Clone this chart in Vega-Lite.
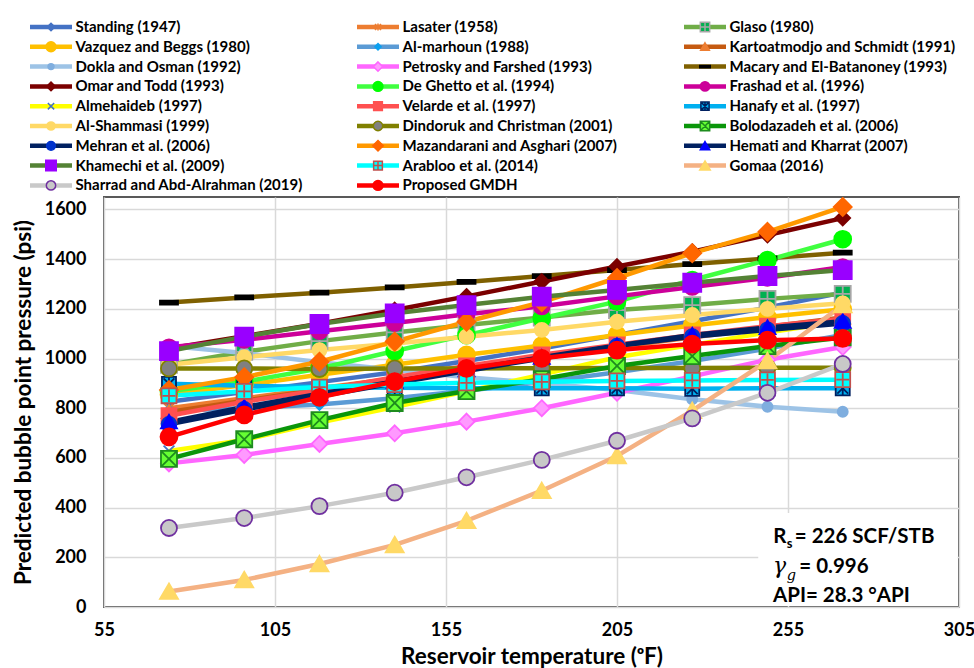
{
  "$schema": "https://vega.github.io/schema/vega-lite/v6.json",
  "width": 855,
  "height": 410,
  "autosize": {"type": "none"},
  "padding": {"left": 104, "top": 197, "right": 15, "bottom": 61},
  "background": "white",
  "config": {
    "view": {"stroke": "#595959", "strokeWidth": 2},
    "font": "Lato",
    "axis": {
      "labelFont": "Lato", "labelFontWeight": "bold", "labelFontSize": 18, "labelColor": "#000000",
      "titleFont": "Lato", "titleFontWeight": "bold", "titleFontSize": 22.5, "titleColor": "#000000",
      "gridColor": "#D9D9D9", "gridWidth": 1.5, "ticks": false, "domain": false,
      "labelFlush": false, "labelOverlap": false
    }
  },
  "data": {"values": [
    {"method": "Standing (1947)", "temp": 74, "pb": 826}, {"method": "Standing (1947)", "temp": 96, "pb": 865}, {"method": "Standing (1947)", "temp": 118, "pb": 905}, {"method": "Standing (1947)", "temp": 140, "pb": 945}, {"method": "Standing (1947)", "temp": 161, "pb": 990}, {"method": "Standing (1947)", "temp": 183, "pb": 1040}, {"method": "Standing (1947)", "temp": 205, "pb": 1095}, {"method": "Standing (1947)", "temp": 227, "pb": 1150}, {"method": "Standing (1947)", "temp": 249, "pb": 1205}, {"method": "Standing (1947)", "temp": 271, "pb": 1265},
    {"method": "Lasater (1958)", "temp": 74, "pb": 800}, {"method": "Lasater (1958)", "temp": 96, "pb": 840}, {"method": "Lasater (1958)", "temp": 118, "pb": 880}, {"method": "Lasater (1958)", "temp": 140, "pb": 920}, {"method": "Lasater (1958)", "temp": 161, "pb": 962}, {"method": "Lasater (1958)", "temp": 183, "pb": 1005}, {"method": "Lasater (1958)", "temp": 205, "pb": 1045}, {"method": "Lasater (1958)", "temp": 227, "pb": 1085}, {"method": "Lasater (1958)", "temp": 249, "pb": 1120}, {"method": "Lasater (1958)", "temp": 271, "pb": 1150},
    {"method": "Glaso (1980)", "temp": 74, "pb": 975}, {"method": "Glaso (1980)", "temp": 96, "pb": 1027}, {"method": "Glaso (1980)", "temp": 118, "pb": 1070}, {"method": "Glaso (1980)", "temp": 140, "pb": 1105}, {"method": "Glaso (1980)", "temp": 161, "pb": 1135}, {"method": "Glaso (1980)", "temp": 183, "pb": 1165}, {"method": "Glaso (1980)", "temp": 205, "pb": 1195}, {"method": "Glaso (1980)", "temp": 227, "pb": 1215}, {"method": "Glaso (1980)", "temp": 249, "pb": 1240}, {"method": "Glaso (1980)", "temp": 271, "pb": 1260},
    {"method": "Vazquez and Beggs (1980)", "temp": 74, "pb": 855}, {"method": "Vazquez and Beggs (1980)", "temp": 96, "pb": 893}, {"method": "Vazquez and Beggs (1980)", "temp": 118, "pb": 935}, {"method": "Vazquez and Beggs (1980)", "temp": 140, "pb": 975}, {"method": "Vazquez and Beggs (1980)", "temp": 161, "pb": 1015}, {"method": "Vazquez and Beggs (1980)", "temp": 183, "pb": 1052}, {"method": "Vazquez and Beggs (1980)", "temp": 205, "pb": 1095}, {"method": "Vazquez and Beggs (1980)", "temp": 227, "pb": 1133}, {"method": "Vazquez and Beggs (1980)", "temp": 249, "pb": 1167}, {"method": "Vazquez and Beggs (1980)", "temp": 271, "pb": 1198},
    {"method": "Al-marhoun (1988)", "temp": 74, "pb": 790}, {"method": "Al-marhoun (1988)", "temp": 96, "pb": 800}, {"method": "Al-marhoun (1988)", "temp": 118, "pb": 815}, {"method": "Al-marhoun (1988)", "temp": 140, "pb": 840}, {"method": "Al-marhoun (1988)", "temp": 161, "pb": 870}, {"method": "Al-marhoun (1988)", "temp": 183, "pb": 905}, {"method": "Al-marhoun (1988)", "temp": 205, "pb": 945}, {"method": "Al-marhoun (1988)", "temp": 227, "pb": 990}, {"method": "Al-marhoun (1988)", "temp": 249, "pb": 1040}, {"method": "Al-marhoun (1988)", "temp": 271, "pb": 1095},
    {"method": "Kartoatmodjo and Schmidt (1991)", "temp": 74, "pb": 785}, {"method": "Kartoatmodjo and Schmidt (1991)", "temp": 96, "pb": 830}, {"method": "Kartoatmodjo and Schmidt (1991)", "temp": 118, "pb": 875}, {"method": "Kartoatmodjo and Schmidt (1991)", "temp": 140, "pb": 920}, {"method": "Kartoatmodjo and Schmidt (1991)", "temp": 161, "pb": 965}, {"method": "Kartoatmodjo and Schmidt (1991)", "temp": 183, "pb": 1008}, {"method": "Kartoatmodjo and Schmidt (1991)", "temp": 205, "pb": 1050}, {"method": "Kartoatmodjo and Schmidt (1991)", "temp": 227, "pb": 1090}, {"method": "Kartoatmodjo and Schmidt (1991)", "temp": 249, "pb": 1128}, {"method": "Kartoatmodjo and Schmidt (1991)", "temp": 271, "pb": 1165},
    {"method": "Dokla and Osman (1992)", "temp": 74, "pb": 1050}, {"method": "Dokla and Osman (1992)", "temp": 96, "pb": 1022}, {"method": "Dokla and Osman (1992)", "temp": 118, "pb": 985}, {"method": "Dokla and Osman (1992)", "temp": 140, "pb": 955}, {"method": "Dokla and Osman (1992)", "temp": 161, "pb": 925}, {"method": "Dokla and Osman (1992)", "temp": 183, "pb": 900}, {"method": "Dokla and Osman (1992)", "temp": 205, "pb": 873}, {"method": "Dokla and Osman (1992)", "temp": 227, "pb": 836}, {"method": "Dokla and Osman (1992)", "temp": 249, "pb": 806}, {"method": "Dokla and Osman (1992)", "temp": 271, "pb": 786},
    {"method": "Petrosky and Farshed (1993)", "temp": 74, "pb": 578}, {"method": "Petrosky and Farshed (1993)", "temp": 96, "pb": 612}, {"method": "Petrosky and Farshed (1993)", "temp": 118, "pb": 656}, {"method": "Petrosky and Farshed (1993)", "temp": 140, "pb": 699}, {"method": "Petrosky and Farshed (1993)", "temp": 161, "pb": 746}, {"method": "Petrosky and Farshed (1993)", "temp": 183, "pb": 800}, {"method": "Petrosky and Farshed (1993)", "temp": 205, "pb": 862}, {"method": "Petrosky and Farshed (1993)", "temp": 227, "pb": 928}, {"method": "Petrosky and Farshed (1993)", "temp": 249, "pb": 995}, {"method": "Petrosky and Farshed (1993)", "temp": 271, "pb": 1046},
    {"method": "Macary and El-Batanoney (1993)", "temp": 74, "pb": 1225}, {"method": "Macary and El-Batanoney (1993)", "temp": 96, "pb": 1246}, {"method": "Macary and El-Batanoney (1993)", "temp": 118, "pb": 1265}, {"method": "Macary and El-Batanoney (1993)", "temp": 140, "pb": 1286}, {"method": "Macary and El-Batanoney (1993)", "temp": 161, "pb": 1308}, {"method": "Macary and El-Batanoney (1993)", "temp": 183, "pb": 1332}, {"method": "Macary and El-Batanoney (1993)", "temp": 205, "pb": 1356}, {"method": "Macary and El-Batanoney (1993)", "temp": 227, "pb": 1380}, {"method": "Macary and El-Batanoney (1993)", "temp": 249, "pb": 1403}, {"method": "Macary and El-Batanoney (1993)", "temp": 271, "pb": 1426},
    {"method": "Omar and Todd (1993)", "temp": 74, "pb": 1040}, {"method": "Omar and Todd (1993)", "temp": 96, "pb": 1090}, {"method": "Omar and Todd (1993)", "temp": 118, "pb": 1140}, {"method": "Omar and Todd (1993)", "temp": 140, "pb": 1195}, {"method": "Omar and Todd (1993)", "temp": 161, "pb": 1250}, {"method": "Omar and Todd (1993)", "temp": 183, "pb": 1310}, {"method": "Omar and Todd (1993)", "temp": 205, "pb": 1370}, {"method": "Omar and Todd (1993)", "temp": 227, "pb": 1430}, {"method": "Omar and Todd (1993)", "temp": 249, "pb": 1497}, {"method": "Omar and Todd (1993)", "temp": 271, "pb": 1565},
    {"method": "De Ghetto et al. (1994)", "temp": 74, "pb": 868}, {"method": "De Ghetto et al. (1994)", "temp": 96, "pb": 907}, {"method": "De Ghetto et al. (1994)", "temp": 118, "pb": 960}, {"method": "De Ghetto et al. (1994)", "temp": 140, "pb": 1030}, {"method": "De Ghetto et al. (1994)", "temp": 161, "pb": 1094}, {"method": "De Ghetto et al. (1994)", "temp": 183, "pb": 1162}, {"method": "De Ghetto et al. (1994)", "temp": 205, "pb": 1229}, {"method": "De Ghetto et al. (1994)", "temp": 227, "pb": 1316}, {"method": "De Ghetto et al. (1994)", "temp": 249, "pb": 1396}, {"method": "De Ghetto et al. (1994)", "temp": 271, "pb": 1480},
    {"method": "Frashad et al. (1996)", "temp": 74, "pb": 1045}, {"method": "Frashad et al. (1996)", "temp": 96, "pb": 1075}, {"method": "Frashad et al. (1996)", "temp": 118, "pb": 1110}, {"method": "Frashad et al. (1996)", "temp": 140, "pb": 1143}, {"method": "Frashad et al. (1996)", "temp": 161, "pb": 1178}, {"method": "Frashad et al. (1996)", "temp": 183, "pb": 1210}, {"method": "Frashad et al. (1996)", "temp": 205, "pb": 1250}, {"method": "Frashad et al. (1996)", "temp": 227, "pb": 1288}, {"method": "Frashad et al. (1996)", "temp": 249, "pb": 1325}, {"method": "Frashad et al. (1996)", "temp": 271, "pb": 1368},
    {"method": "Almehaideb (1997)", "temp": 74, "pb": 628}, {"method": "Almehaideb (1997)", "temp": 96, "pb": 672}, {"method": "Almehaideb (1997)", "temp": 118, "pb": 742}, {"method": "Almehaideb (1997)", "temp": 140, "pb": 805}, {"method": "Almehaideb (1997)", "temp": 161, "pb": 868}, {"method": "Almehaideb (1997)", "temp": 183, "pb": 935}, {"method": "Almehaideb (1997)", "temp": 205, "pb": 1005}, {"method": "Almehaideb (1997)", "temp": 227, "pb": 1055}, {"method": "Almehaideb (1997)", "temp": 249, "pb": 1105}, {"method": "Almehaideb (1997)", "temp": 271, "pb": 1150},
    {"method": "Velarde et al. (1997)", "temp": 74, "pb": 770}, {"method": "Velarde et al. (1997)", "temp": 96, "pb": 826}, {"method": "Velarde et al. (1997)", "temp": 118, "pb": 872}, {"method": "Velarde et al. (1997)", "temp": 140, "pb": 925}, {"method": "Velarde et al. (1997)", "temp": 161, "pb": 970}, {"method": "Velarde et al. (1997)", "temp": 183, "pb": 1015}, {"method": "Velarde et al. (1997)", "temp": 205, "pb": 1055}, {"method": "Velarde et al. (1997)", "temp": 227, "pb": 1095}, {"method": "Velarde et al. (1997)", "temp": 249, "pb": 1130}, {"method": "Velarde et al. (1997)", "temp": 271, "pb": 1160},
    {"method": "Hanafy et al. (1997)", "temp": 74, "pb": 898}, {"method": "Hanafy et al. (1997)", "temp": 96, "pb": 890}, {"method": "Hanafy et al. (1997)", "temp": 118, "pb": 885}, {"method": "Hanafy et al. (1997)", "temp": 140, "pb": 882}, {"method": "Hanafy et al. (1997)", "temp": 161, "pb": 880}, {"method": "Hanafy et al. (1997)", "temp": 183, "pb": 880}, {"method": "Hanafy et al. (1997)", "temp": 205, "pb": 880}, {"method": "Hanafy et al. (1997)", "temp": 227, "pb": 878}, {"method": "Hanafy et al. (1997)", "temp": 249, "pb": 880}, {"method": "Hanafy et al. (1997)", "temp": 271, "pb": 880},
    {"method": "Al-Shammasi (1999)", "temp": 74, "pb": 975}, {"method": "Al-Shammasi (1999)", "temp": 96, "pb": 1005}, {"method": "Al-Shammasi (1999)", "temp": 118, "pb": 1034}, {"method": "Al-Shammasi (1999)", "temp": 140, "pb": 1060}, {"method": "Al-Shammasi (1999)", "temp": 161, "pb": 1088}, {"method": "Al-Shammasi (1999)", "temp": 183, "pb": 1115}, {"method": "Al-Shammasi (1999)", "temp": 205, "pb": 1148}, {"method": "Al-Shammasi (1999)", "temp": 227, "pb": 1175}, {"method": "Al-Shammasi (1999)", "temp": 249, "pb": 1200}, {"method": "Al-Shammasi (1999)", "temp": 271, "pb": 1222},
    {"method": "Dindoruk and Christman (2001)", "temp": 74, "pb": 960}, {"method": "Dindoruk and Christman (2001)", "temp": 96, "pb": 960}, {"method": "Dindoruk and Christman (2001)", "temp": 118, "pb": 958}, {"method": "Dindoruk and Christman (2001)", "temp": 140, "pb": 960}, {"method": "Dindoruk and Christman (2001)", "temp": 161, "pb": 960}, {"method": "Dindoruk and Christman (2001)", "temp": 183, "pb": 961}, {"method": "Dindoruk and Christman (2001)", "temp": 205, "pb": 962}, {"method": "Dindoruk and Christman (2001)", "temp": 227, "pb": 962}, {"method": "Dindoruk and Christman (2001)", "temp": 249, "pb": 963}, {"method": "Dindoruk and Christman (2001)", "temp": 271, "pb": 963},
    {"method": "Bolodazadeh et al. (2006)", "temp": 74, "pb": 596}, {"method": "Bolodazadeh et al. (2006)", "temp": 96, "pb": 675}, {"method": "Bolodazadeh et al. (2006)", "temp": 118, "pb": 752}, {"method": "Bolodazadeh et al. (2006)", "temp": 140, "pb": 821}, {"method": "Bolodazadeh et al. (2006)", "temp": 161, "pb": 869}, {"method": "Bolodazadeh et al. (2006)", "temp": 183, "pb": 917}, {"method": "Bolodazadeh et al. (2006)", "temp": 205, "pb": 970}, {"method": "Bolodazadeh et al. (2006)", "temp": 227, "pb": 1010}, {"method": "Bolodazadeh et al. (2006)", "temp": 249, "pb": 1050}, {"method": "Bolodazadeh et al. (2006)", "temp": 271, "pb": 1085},
    {"method": "Mehran et al. (2006)", "temp": 74, "pb": 735}, {"method": "Mehran et al. (2006)", "temp": 96, "pb": 795}, {"method": "Mehran et al. (2006)", "temp": 118, "pb": 848}, {"method": "Mehran et al. (2006)", "temp": 140, "pb": 900}, {"method": "Mehran et al. (2006)", "temp": 161, "pb": 950}, {"method": "Mehran et al. (2006)", "temp": 183, "pb": 1000}, {"method": "Mehran et al. (2006)", "temp": 205, "pb": 1050}, {"method": "Mehran et al. (2006)", "temp": 227, "pb": 1088}, {"method": "Mehran et al. (2006)", "temp": 249, "pb": 1115}, {"method": "Mehran et al. (2006)", "temp": 271, "pb": 1141},
    {"method": "Mazandarani and Asghari (2007)", "temp": 74, "pb": 873}, {"method": "Mazandarani and Asghari (2007)", "temp": 96, "pb": 925}, {"method": "Mazandarani and Asghari (2007)", "temp": 118, "pb": 987}, {"method": "Mazandarani and Asghari (2007)", "temp": 140, "pb": 1068}, {"method": "Mazandarani and Asghari (2007)", "temp": 161, "pb": 1148}, {"method": "Mazandarani and Asghari (2007)", "temp": 183, "pb": 1227}, {"method": "Mazandarani and Asghari (2007)", "temp": 205, "pb": 1324}, {"method": "Mazandarani and Asghari (2007)", "temp": 227, "pb": 1424}, {"method": "Mazandarani and Asghari (2007)", "temp": 249, "pb": 1510}, {"method": "Mazandarani and Asghari (2007)", "temp": 271, "pb": 1610},
    {"method": "Hemati and Kharrat (2007)", "temp": 74, "pb": 745}, {"method": "Hemati and Kharrat (2007)", "temp": 96, "pb": 805}, {"method": "Hemati and Kharrat (2007)", "temp": 118, "pb": 858}, {"method": "Hemati and Kharrat (2007)", "temp": 140, "pb": 908}, {"method": "Hemati and Kharrat (2007)", "temp": 161, "pb": 955}, {"method": "Hemati and Kharrat (2007)", "temp": 183, "pb": 1005}, {"method": "Hemati and Kharrat (2007)", "temp": 205, "pb": 1052}, {"method": "Hemati and Kharrat (2007)", "temp": 227, "pb": 1095}, {"method": "Hemati and Kharrat (2007)", "temp": 249, "pb": 1125}, {"method": "Hemati and Kharrat (2007)", "temp": 271, "pb": 1150},
    {"method": "Khamechi et al. (2009)", "temp": 74, "pb": 1030}, {"method": "Khamechi et al. (2009)", "temp": 96, "pb": 1088}, {"method": "Khamechi et al. (2009)", "temp": 118, "pb": 1139}, {"method": "Khamechi et al. (2009)", "temp": 140, "pb": 1182}, {"method": "Khamechi et al. (2009)", "temp": 161, "pb": 1215}, {"method": "Khamechi et al. (2009)", "temp": 183, "pb": 1249}, {"method": "Khamechi et al. (2009)", "temp": 205, "pb": 1276}, {"method": "Khamechi et al. (2009)", "temp": 227, "pb": 1305}, {"method": "Khamechi et al. (2009)", "temp": 249, "pb": 1332}, {"method": "Khamechi et al. (2009)", "temp": 271, "pb": 1356},
    {"method": "Arabloo et al. (2014)", "temp": 74, "pb": 850}, {"method": "Arabloo et al. (2014)", "temp": 96, "pb": 868}, {"method": "Arabloo et al. (2014)", "temp": 118, "pb": 885}, {"method": "Arabloo et al. (2014)", "temp": 140, "pb": 895}, {"method": "Arabloo et al. (2014)", "temp": 161, "pb": 902}, {"method": "Arabloo et al. (2014)", "temp": 183, "pb": 906}, {"method": "Arabloo et al. (2014)", "temp": 205, "pb": 910}, {"method": "Arabloo et al. (2014)", "temp": 227, "pb": 912}, {"method": "Arabloo et al. (2014)", "temp": 249, "pb": 914}, {"method": "Arabloo et al. (2014)", "temp": 271, "pb": 915},
    {"method": "Gomaa (2016)", "temp": 74, "pb": 62}, {"method": "Gomaa (2016)", "temp": 96, "pb": 109}, {"method": "Gomaa (2016)", "temp": 118, "pb": 173}, {"method": "Gomaa (2016)", "temp": 140, "pb": 250}, {"method": "Gomaa (2016)", "temp": 161, "pb": 347}, {"method": "Gomaa (2016)", "temp": 183, "pb": 468}, {"method": "Gomaa (2016)", "temp": 205, "pb": 608}, {"method": "Gomaa (2016)", "temp": 227, "pb": 790}, {"method": "Gomaa (2016)", "temp": 249, "pb": 990}, {"method": "Gomaa (2016)", "temp": 271, "pb": 1215},
    {"method": "Sharrad and Abd-Alrahman (2019)", "temp": 74, "pb": 318}, {"method": "Sharrad and Abd-Alrahman (2019)", "temp": 96, "pb": 358}, {"method": "Sharrad and Abd-Alrahman (2019)", "temp": 118, "pb": 406}, {"method": "Sharrad and Abd-Alrahman (2019)", "temp": 140, "pb": 460}, {"method": "Sharrad and Abd-Alrahman (2019)", "temp": 161, "pb": 522}, {"method": "Sharrad and Abd-Alrahman (2019)", "temp": 183, "pb": 592}, {"method": "Sharrad and Abd-Alrahman (2019)", "temp": 205, "pb": 669}, {"method": "Sharrad and Abd-Alrahman (2019)", "temp": 227, "pb": 759}, {"method": "Sharrad and Abd-Alrahman (2019)", "temp": 249, "pb": 862}, {"method": "Sharrad and Abd-Alrahman (2019)", "temp": 271, "pb": 978},
    {"method": "Proposed GMDH", "temp": 74, "pb": 685}, {"method": "Proposed GMDH", "temp": 96, "pb": 773}, {"method": "Proposed GMDH", "temp": 118, "pb": 844}, {"method": "Proposed GMDH", "temp": 140, "pb": 907}, {"method": "Proposed GMDH", "temp": 161, "pb": 960}, {"method": "Proposed GMDH", "temp": 183, "pb": 1001}, {"method": "Proposed GMDH", "temp": 205, "pb": 1034}, {"method": "Proposed GMDH", "temp": 227, "pb": 1058}, {"method": "Proposed GMDH", "temp": 249, "pb": 1074}, {"method": "Proposed GMDH", "temp": 271, "pb": 1081}
  ]},
  "layer": [
    {
      "mark": {"type": "line", "strokeWidth": 4.5, "strokeCap": "round", "strokeJoin": "round"},
      "encoding": {
        "x": {
          "field": "temp", "type": "quantitative",
          "scale": {"domain": [55, 305], "nice": false, "zero": false},
          "axis": {"values": [55, 105, 155, 205, 255, 305], "title": "Reservoir temperature (ᵒF)", "labelPadding": 14, "titleY": 49, "titleBaseline": "middle"}
        },
        "y": {
          "field": "pb", "type": "quantitative",
          "scale": {"domain": [0, 1650], "nice": false},
          "axis": {"values": [0, 200, 400, 600, 800, 1000, 1200, 1400, 1600], "format": "d", "title": "Predicted bubble point pressure (psi)", "labelPadding": 18, "titleX": -81, "titleY": 205, "titleAngle": -90, "titleAlign": "center", "titleBaseline": "middle"}
        },
        "color": {
          "field": "method", "type": "nominal",
          "sort": ["Standing (1947)", "Vazquez and Beggs (1980)", "Dokla and Osman (1992)", "Omar and Todd (1993)", "Almehaideb (1997)", "Al-Shammasi (1999)", "Mehran et al. (2006)", "Khamechi et al. (2009)", "Sharrad and Abd-Alrahman (2019)", "Lasater (1958)", "Al-marhoun (1988)", "Petrosky and Farshed (1993)", "De Ghetto et al. (1994)", "Velarde et al. (1997)", "Dindoruk and Christman (2001)", "Mazandarani and Asghari (2007)", "Arabloo et al. (2014)", "Proposed GMDH", "Glaso (1980)", "Kartoatmodjo and Schmidt (1991)", "Macary and El-Batanoney (1993)", "Frashad et al. (1996)", "Hanafy et al. (1997)", "Bolodazadeh et al. (2006)", "Hemati and Kharrat (2007)", "Gomaa (2016)"],
          "scale": {"range": ["#4472C4", "#FFC000", "#9DC3E6", "#7B0000", "#FFFF00", "#FFD966", "#002060", "#548235", "#C9C9C9", "#ED7D31", "#5B9BD5", "#FF66FF", "#40FF40", "#FF5050", "#808000", "#FF9900", "#00FFFF", "#FF0000", "#70AD47", "#C55A11", "#7F6000", "#CC0099", "#00B0F0", "#0A960A", "#002060", "#F4B183"]},
          "legend": {
            "title": null, "orient": "none", "legendX": -76.5, "legendY": -179, "padding": 0,
            "columns": 3, "gridAlign": "all", "columnPadding": 279, "rowPadding": 1.8, "clipHeight": 18,
            "symbolType": "stroke", "symbolSize": 1764, "symbolStrokeWidth": 4.5, "symbolOffset": 0,
            "labelOffset": 1, "labelFont": "Lato", "labelFontSize": 15, "labelExpr": "''", "labelLimit": 400
          }
        }
      }
    },
    {
      "mark": {"type": "point", "size": 5184, "strokeWidth": 1.8, "opacity": 1},
      "encoding": {
        "x": {"field": "temp", "type": "quantitative"},
        "y": {"field": "pb", "type": "quantitative"},
        "fill": {
          "field": "method", "type": "nominal",
          "scale": {
            "domain": ["Standing (1947)", "Vazquez and Beggs (1980)", "Dokla and Osman (1992)", "Omar and Todd (1993)", "Almehaideb (1997)", "Al-Shammasi (1999)", "Mehran et al. (2006)", "Khamechi et al. (2009)", "Sharrad and Abd-Alrahman (2019)", "Lasater (1958)", "Al-marhoun (1988)", "Petrosky and Farshed (1993)", "De Ghetto et al. (1994)", "Velarde et al. (1997)", "Dindoruk and Christman (2001)", "Mazandarani and Asghari (2007)", "Arabloo et al. (2014)", "Proposed GMDH", "Glaso (1980)", "Kartoatmodjo and Schmidt (1991)", "Macary and El-Batanoney (1993)", "Frashad et al. (1996)", "Hanafy et al. (1997)", "Bolodazadeh et al. (2006)", "Hemati and Kharrat (2007)", "Gomaa (2016)"],
            "range": ["#4472C4", "#FFC000", "#7FAEDF", "#7B0000", "#4472C4", "#FFD966", "#0033CC", "#9900FF", "#C8C8C8", "#ED7D31", "#0AA0F0", "#FF99FF", "#00FF00", "#FF5050", "#808080", "#FF6600", "#00FFFF", "#FF0000", "#00B050", "#ED7D31", "#000000", "#CC0099", "#00B0F0", "#66FF33", "#0000FF", "#FFD966"]
          },
          "legend": {
            "title": null, "orient": "none", "legendX": -76.5, "legendY": -179, "padding": 0,
            "columns": 3, "gridAlign": "all", "columnPadding": 51, "rowPadding": 1.8, "clipHeight": 18,
            "symbolSize": 1764, "symbolStrokeWidth": 1.5, "symbolOffset": 1.5,
            "labelOffset": 2.5, "labelFont": "Lato", "labelFontSize": 15, "labelFontWeight": "bold", "labelLimit": 400, "labelColor": "#000000"
          }
        },
        "stroke": {
          "field": "method", "type": "nominal",
          "scale": {
            "domain": ["Standing (1947)", "Vazquez and Beggs (1980)", "Dokla and Osman (1992)", "Omar and Todd (1993)", "Almehaideb (1997)", "Al-Shammasi (1999)", "Mehran et al. (2006)", "Khamechi et al. (2009)", "Sharrad and Abd-Alrahman (2019)", "Lasater (1958)", "Al-marhoun (1988)", "Petrosky and Farshed (1993)", "De Ghetto et al. (1994)", "Velarde et al. (1997)", "Dindoruk and Christman (2001)", "Mazandarani and Asghari (2007)", "Arabloo et al. (2014)", "Proposed GMDH", "Glaso (1980)", "Kartoatmodjo and Schmidt (1991)", "Macary and El-Batanoney (1993)", "Frashad et al. (1996)", "Hanafy et al. (1997)", "Bolodazadeh et al. (2006)", "Hemati and Kharrat (2007)", "Gomaa (2016)"],
            "range": ["#4472C4", "#FFC000", "#7FAEDF", "#7B0000", "#4472C4", "#FFD966", "#0033CC", "#9900FF", "#7030A0", "#ED7D31", "#0AA0F0", "#FF66FF", "#00FF00", "#FF5050", "#808000", "#FF6600", "#C0504D", "#FF0000", "#A6A6A6", "#ED7D31", "#000000", "#CC0099", "#002060", "#1E8C1E", "#0000FF", "#FFD966"]
          },
          "legend": {
            "title": null, "orient": "none", "legendX": -76.5, "legendY": -179, "padding": 0,
            "columns": 3, "gridAlign": "all", "columnPadding": 51, "rowPadding": 1.8, "clipHeight": 18,
            "symbolSize": 1764, "symbolStrokeWidth": 1.5, "symbolOffset": 1.5,
            "labelOffset": 2.5, "labelFont": "Lato", "labelFontSize": 15, "labelFontWeight": "bold", "labelLimit": 400, "labelColor": "#000000"
          }
        },
        "shape": {
          "field": "method", "type": "nominal",
          "scale": {
            "domain": ["Standing (1947)", "Vazquez and Beggs (1980)", "Dokla and Osman (1992)", "Omar and Todd (1993)", "Almehaideb (1997)", "Al-Shammasi (1999)", "Mehran et al. (2006)", "Khamechi et al. (2009)", "Sharrad and Abd-Alrahman (2019)", "Lasater (1958)", "Al-marhoun (1988)", "Petrosky and Farshed (1993)", "De Ghetto et al. (1994)", "Velarde et al. (1997)", "Dindoruk and Christman (2001)", "Mazandarani and Asghari (2007)", "Arabloo et al. (2014)", "Proposed GMDH", "Glaso (1980)", "Kartoatmodjo and Schmidt (1991)", "Macary and El-Batanoney (1993)", "Frashad et al. (1996)", "Hanafy et al. (1997)", "Bolodazadeh et al. (2006)", "Hemati and Kharrat (2007)", "Gomaa (2016)"],
            "range": [
              "M0,-0.18L0.18,0L0,0.18L-0.18,0Z",
              "M-0.235,0A0.235,0.235,0,1,1,0.235,0A0.235,0.235,0,1,1,-0.235,0Z",
              "M-0.14,0A0.14,0.14,0,1,1,0.14,0A0.14,0.14,0,1,1,-0.14,0Z",
              "M0,-0.2075L0.2075,0L0,0.2075L-0.2075,0Z",
              "M-0.15,-0.15L0.15,0.15M-0.15,0.15L0.15,-0.15",
              "M-0.195,0A0.195,0.195,0,1,1,0.195,0A0.195,0.195,0,1,1,-0.195,0Z",
              "M-0.2075,0A0.2075,0.2075,0,1,1,0.2075,0A0.2075,0.2075,0,1,1,-0.2075,0Z",
              "M-0.25,-0.25H0.25V0.25H-0.25Z",
              "M-0.2225,0A0.2225,0.2225,0,1,1,0.2225,0A0.2225,0.2225,0,1,1,-0.2225,0Z",
              "M-0.145,-0.145L0.145,0.145M-0.145,0.145L0.145,-0.145M0,-0.1675L0,0.1675",
              "M0,-0.15L0.15,0L0,0.15L-0.15,0Z",
              "M0,-0.2225L0.2225,0L0,0.2225L-0.2225,0Z",
              "M-0.235,0A0.235,0.235,0,1,1,0.235,0A0.235,0.235,0,1,1,-0.235,0Z",
              "M-0.2075,-0.2075H0.2075V0.2075H-0.2075Z",
              "M-0.2225,0A0.2225,0.2225,0,1,1,0.2225,0A0.2225,0.2225,0,1,1,-0.2225,0Z",
              "M0,-0.25L0.25,0L0,0.25L-0.25,0Z",
              "M-0.2075,-0.2075H0.2075V0.2075H-0.2075ZM0,-0.175V0.175M-0.175,0H0.175",
              "M-0.235,0A0.235,0.235,0,1,1,0.235,0A0.235,0.235,0,1,1,-0.235,0Z",
              "M-0.2225,-0.2225H0.2225V0.2225H-0.2225ZM0,-0.2225V0.2225M-0.2225,0H0.2225",
              "M0,-0.1875L0.2075,0.17L-0.2075,0.17Z",
              "M-0.25,-0.055H0.25V0.055H-0.25Z",
              "M-0.2225,0A0.2225,0.2225,0,1,1,0.2225,0A0.2225,0.2225,0,1,1,-0.2225,0Z",
              "M-0.195,-0.195H0.195V0.195H-0.195ZM-0.15,-0.15L0.15,0.15M-0.15,0.15L0.15,-0.15M0,-0.195V0.195",
              "M-0.2225,-0.2225H0.2225V0.2225H-0.2225ZM-0.2225,-0.2225L0.2225,0.2225M-0.2225,0.2225L0.2225,-0.2225",
              "M0,-0.2L0.2225,0.1825L-0.2225,0.1825Z",
              "M0,-0.225L0.25,0.205L-0.25,0.205Z"
            ]
          },
          "legend": {
            "title": null, "orient": "none", "legendX": -76.5, "legendY": -179, "padding": 0,
            "columns": 3, "gridAlign": "all", "columnPadding": 51, "rowPadding": 1.8, "clipHeight": 18,
            "symbolSize": 1764, "symbolStrokeWidth": 1.5, "symbolOffset": 1.5,
            "labelOffset": 2.5, "labelFont": "Lato", "labelFontSize": 15, "labelFontWeight": "bold", "labelLimit": 400, "labelColor": "#000000"
          }
        }
      }
    },
    {
      "data": {"values": [{"note": "box"}]},
      "mark": {"type": "rect", "fill": "#FFFFFF"},
      "encoding": {
        "x": {"datum": 246.3, "type": "quantitative"},
        "x2": {"datum": 304.6},
        "y": {"datum": 4, "type": "quantitative"},
        "y2": {"datum": 378}
      }
    },
    {
      "data": {"values": [{"note": "R"}]},
      "mark": {"type": "text", "text": "R", "font": "Lato", "fontWeight": "bold", "fontSize": 20.5, "align": "left", "baseline": "alphabetic", "fill": "#000000"},
      "encoding": {"x": {"datum": 250.7, "type": "quantitative"}, "y": {"datum": 256, "type": "quantitative"}}
    },
    {
      "data": {"values": [{"note": "s"}]},
      "mark": {"type": "text", "text": "s", "font": "Lato", "fontWeight": "bold", "fontSize": 13, "align": "left", "baseline": "alphabetic", "fill": "#000000"},
      "encoding": {"x": {"datum": 254.6, "type": "quantitative"}, "y": {"datum": 236, "type": "quantitative"}}
    },
    {
      "data": {"values": [{"note": "rs"}]},
      "mark": {"type": "text", "text": "= 226 SCF/STB", "font": "Lato", "fontWeight": "bold", "fontSize": 20.5, "align": "left", "baseline": "alphabetic", "fill": "#000000"},
      "encoding": {"x": {"datum": 257.0, "type": "quantitative"}, "y": {"datum": 256, "type": "quantitative"}}
    },
    {
      "data": {"values": [{"note": "gamma"}]},
      "mark": {"type": "text", "text": "γ", "font": "DejaVu Serif", "fontStyle": "italic", "fontSize": 22, "align": "left", "baseline": "alphabetic", "fill": "#000000"},
      "encoding": {"x": {"datum": 250.6, "type": "quantitative"}, "y": {"datum": 135, "type": "quantitative"}}
    },
    {
      "data": {"values": [{"note": "g"}]},
      "mark": {"type": "text", "text": "g", "font": "DejaVu Serif", "fontStyle": "italic", "fontSize": 14.5, "align": "left", "baseline": "alphabetic", "fill": "#000000"},
      "encoding": {"x": {"datum": 254.6, "type": "quantitative"}, "y": {"datum": 108, "type": "quantitative"}}
    },
    {
      "data": {"values": [{"note": "sg"}]},
      "mark": {"type": "text", "text": "= 0.996", "font": "Lato", "fontWeight": "bold", "fontSize": 20.5, "align": "left", "baseline": "alphabetic", "fill": "#000000"},
      "encoding": {"x": {"datum": 258.3, "type": "quantitative"}, "y": {"datum": 135, "type": "quantitative"}}
    },
    {
      "data": {"values": [{"note": "api"}]},
      "mark": {"type": "text", "text": "API= 28.3 °API", "font": "Lato", "fontWeight": "bold", "fontSize": 20.5, "align": "left", "baseline": "alphabetic", "fill": "#000000"},
      "encoding": {"x": {"datum": 250.6, "type": "quantitative"}, "y": {"datum": 19, "type": "quantitative"}}
    }
  ]
}
